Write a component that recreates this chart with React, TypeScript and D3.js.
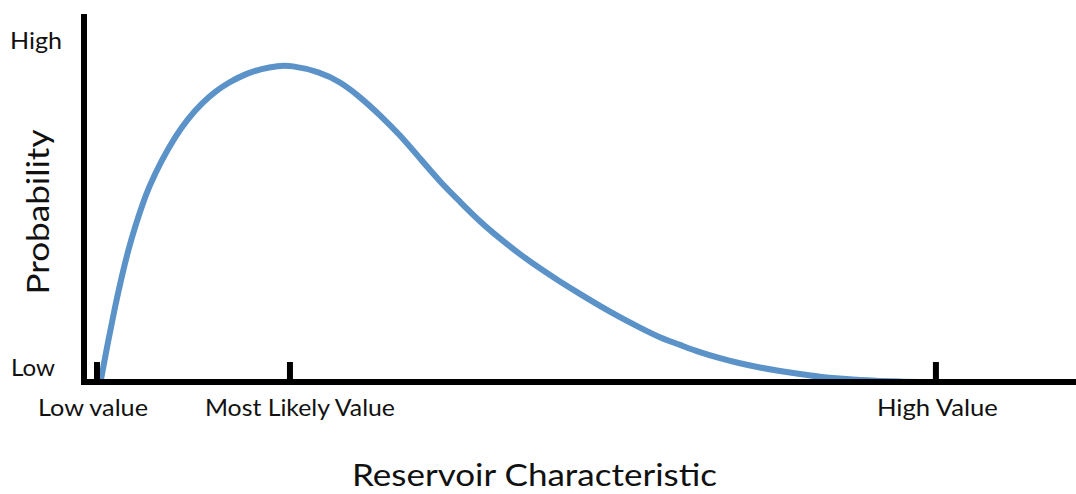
import * as d3 from 'd3'

// Curve: x in characteristic units (low value = 0, high value = 100),
// y = relative probability (0 = low, 1 = high)
const curveX = [0.42, 1.35, 2.15, 2.94, 3.73, 4.53, 5.33, 6.11, 7.71, 9.3, 10.88, 12.48, 14.06, 15.65, 17.64, 19.63, 21.61, 23.0, 26.58, 28.96, 31.35, 33.73, 36.11, 38.5, 40.88, 43.27, 45.65, 48.03, 50.42, 52.8, 55.18, 57.57, 59.95, 62.34, 64.72, 67.1, 69.49, 71.87, 74.26, 76.64, 79.02, 81.41, 83.79, 86.17, 88.56, 90.94, 93.33, 95.71, 98.09, 100.48]
const curveY = [0.0, 0.122, 0.219, 0.306, 0.384, 0.451, 0.51, 0.563, 0.645, 0.713, 0.767, 0.81, 0.844, 0.87, 0.895, 0.911, 0.919, 0.921, 0.902, 0.873, 0.829, 0.776, 0.718, 0.65, 0.582, 0.524, 0.466, 0.417, 0.371, 0.33, 0.292, 0.256, 0.221, 0.188, 0.158, 0.129, 0.108, 0.086, 0.069, 0.054, 0.042, 0.032, 0.023, 0.015, 0.01, 0.006, 0.003, 0.001, 0.0, 0.0]

const tickValues = [0, 23, 100]
const tickLabels = ['Low value', 'Most Likely Value', 'High Value']
const yLabels = ['High', 'Low']

const W = 1076
const H = 494
const FONT = 'Lato, "Open Sans", sans-serif'

export default function App() {
  const x = d3.scaleLinear().domain([-1.55, 116.7]).range([84, 1076])
  const y = d3.scaleLinear().domain([0, 1]).range([382, 38])

  const points: [number, number][] = curveX.map((v, i) => [x(v), y(curveY[i])])
  // B-spline smooths out the small reading errors in the sampled points
  const line = d3.line().curve(d3.curveBasis)(points) || ''

  const axisY = y(0)
  const axisX = x(-1.55)
  // label widths and small centring offsets
  const labelW = [110, 190, 121]
  const labelDx = [-4, 10, 1.5]

  return (
    <div style={{ position: 'absolute', left: 0, top: 0 }}>
      <svg width={W} height={H} style={{ display: 'block', background: '#fff' }}>
        {/* curve first so the axis sits over its tail */}
        <path d={line} fill="none" stroke="#5B93C9" strokeWidth={6} strokeLinejoin="round" />

        {/* axes */}
        <line x1={axisX} x2={axisX} y1={14} y2={axisY + 3} stroke="#000" strokeWidth={6} />
        <line x1={axisX - 3} x2={W} y1={axisY} y2={axisY} stroke="#000" strokeWidth={6} />

        {tickValues.map((v, i) => (
          <g key={i}>
            <line x1={x(v)} x2={x(v)} y1={362} y2={axisY} stroke="#000" strokeWidth={6} />
            <text
              x={x(v) + labelDx[i]}
              y={416}
              textAnchor="middle"
              fontFamily={FONT}
              fontSize={24}
              textLength={labelW[i]}
              lengthAdjust="spacingAndGlyphs"
              fill="#111"
            >
              {tickLabels[i]}
            </text>
          </g>
        ))}

        <text x={36} y={49} textAnchor="middle" fontFamily={FONT} fontSize={24} textLength={52} lengthAdjust="spacingAndGlyphs" fill="#111">
          {yLabels[0]}
        </text>
        <text x={33} y={376} textAnchor="middle" fontFamily={FONT} fontSize={24} textLength={44} lengthAdjust="spacingAndGlyphs" fill="#111">
          {yLabels[1]}
        </text>

        <text
          transform="translate(49, 212) rotate(-90)"
          textAnchor="middle"
          fontFamily={FONT}
          fontSize={31}
          textLength={165}
          lengthAdjust="spacingAndGlyphs"
          fill="#111"
        >
          Probability
        </text>

        <text x={534.5} y={486} textAnchor="middle" fontFamily={FONT} fontSize={31} textLength={365} lengthAdjust="spacingAndGlyphs" fill="#111">
          Reservoir Characteristic
        </text>
      </svg>
    </div>
  )
}
